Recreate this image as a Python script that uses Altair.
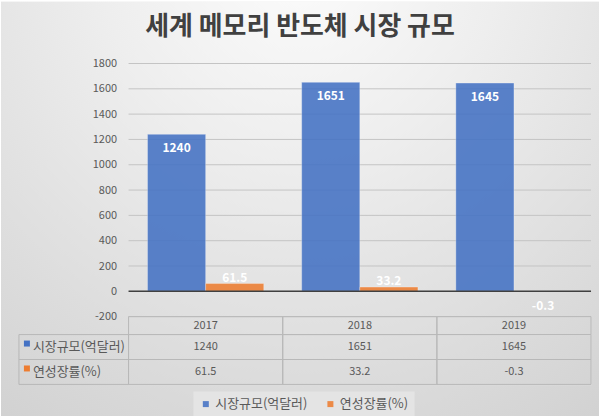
import altair as alt
import pandas as pd

# ---- data ----
title_text = "세계 메모리 반도체 시장 규모"
years = ["2017", "2018", "2019"]
series = ["시장규모(억달러)", "연성장률(%)"]
market_size = [1240, 1651, 1645]
growth_rate = [61.5, 33.2, -0.3]
y_ticks = [-200, 0, 200, 400, 600, 800, 1000, 1200, 1400, 1600, 1800]
colors = ["#4472c4", "#ed7d31"]

FONT = "Noto Sans CJK KR"
W, H = 464, 254
LEFT, TOP = 128, 62
HDR_H, BODY_H = 18, 50
TXT = "#595959"
LINE = "#b8b8b8"

rows = []
for s, vals in zip(series, [market_size, growth_rate]):
    for yr, v in zip(years, vals):
        rows.append({"year": yr, "series": s, "value": v, "label": f"{v:g}"})
df = pd.DataFrame(rows)
series_df = pd.DataFrame({"series": series})

# ---- bar chart ----
y_scale = alt.Scale(domain=[-200, 1800], nice=False)
y_axis = alt.Axis(values=y_ticks, labelExpr="'' + datum.value", grid=False, domain=False,
                  ticks=False, labelPadding=12, labelFontSize=11, labelColor=TXT,
                  labelFont=FONT, zindex=1, title=None)
x_enc = alt.X("year:N", sort=years, scale=alt.Scale(paddingInner=0.246, paddingOuter=0.123), axis=None)
xo_enc = alt.XOffset("series:N", sort=series, scale=alt.Scale(domain=series, paddingInner=0, paddingOuter=0))
color_scale = alt.Scale(domain=series, range=colors)

bg = alt.Chart(pd.DataFrame({"a": [0]})).mark_rect(
    fill=alt.RadialGradient(
        gradient="radial",
        stops=[alt.GradientStop(color="#fcfcfc", offset=0),
               alt.GradientStop(color="#eeeeee", offset=0.35),
               alt.GradientStop(color="#d0d0d0", offset=1)],
        x1=0.5, y1=0.08, r1=0, x2=0.5, y2=0.08, r2=0.95)
).encode(x=alt.value(-LEFT), x2=alt.value(600 - LEFT), y=alt.value(-TOP), y2=alt.value(416 - TOP))

grid = alt.Chart(pd.DataFrame({"t": y_ticks})).mark_rule(color="#c4c4c4", strokeWidth=1).encode(
    y=alt.Y("t:Q", scale=y_scale, axis=y_axis)
)

bars = alt.Chart(df).mark_bar(opacity=0.88, stroke="#ffffff", strokeOpacity=0.3, strokeWidth=1).encode(
    x=x_enc, xOffset=xo_enc,
    y=alt.Y("value:Q", scale=y_scale, axis=y_axis),
    color=alt.Color("series:N", sort=series, scale=color_scale,
                    legend=alt.Legend(orient="none", legendX=65, legendY=329, direction="horizontal",
                                      title=None, symbolType="square", symbolSize=36,
                                      symbolStrokeWidth=0, labelFontSize=13, labelColor=TXT,
                                      labelFont=FONT, fillColor="#e4e4e4", padding=6,
                                      columnPadding=16, labelOffset=3)),
)

zero = alt.Chart(pd.DataFrame({"z": [0]})).mark_rule(color="#404040", strokeWidth=1.5).encode(
    y=alt.Y("z:Q", scale=y_scale, axis=y_axis)
)

lbl_common = dict(color="white", fontWeight="bold", fontSize=12, font=FONT, baseline="middle")
blue_lbl = alt.Chart(df).transform_filter(alt.datum.series == series[0]).mark_text(dy=14, **lbl_common).encode(
    x=x_enc, xOffset=xo_enc, y=alt.Y("value:Q", scale=y_scale, axis=y_axis), text="label:N")
org_pos = alt.Chart(df).transform_filter(
    (alt.datum.series == series[1]) & (alt.datum.value >= 0)).mark_text(dy=-6, **lbl_common).encode(
    x=x_enc, xOffset=xo_enc, y=alt.Y("value:Q", scale=y_scale, axis=y_axis), text="label:N")
org_neg = alt.Chart(df).transform_filter(
    (alt.datum.series == series[1]) & (alt.datum.value < 0)).mark_text(dy=15, **lbl_common).encode(
    x=x_enc, xOffset=xo_enc, y=alt.Y("value:Q", scale=y_scale, axis=y_axis), text="label:N")

title = alt.Chart(pd.DataFrame({"t": [title_text]})).mark_text(
    fontSize=26, fontWeight="bold", color="#404040", font=FONT, align="center", baseline="middle"
).encode(x=alt.value(300 - LEFT), y=alt.value(25 - TOP), text="t:N")

top = alt.layer(bg, grid, bars, zero, blue_lbl, org_pos, org_neg, title).properties(width=W, height=H)

# ---- data table ----
tx = alt.X("year:N", sort=years, scale=alt.Scale(paddingInner=0, paddingOuter=0), axis=None)
hdr_cells = alt.Chart(pd.DataFrame({"year": years})).mark_rect(
    fill="white", fillOpacity=0, stroke=LINE, strokeWidth=1
).encode(x=tx, y=alt.value(0), y2=alt.value(HDR_H))
hdr_text = alt.Chart(pd.DataFrame({"year": years})).mark_text(
    fontSize=11, color=TXT, font=FONT, baseline="middle"
).encode(x=tx, y=alt.value(HDR_H / 2), text="year:N")
header = alt.layer(hdr_cells, hdr_text).properties(width=W, height=HDR_H)

ty = alt.Y("series:N", sort=series, scale=alt.Scale(domain=series, paddingInner=0, paddingOuter=0), axis=None)
cells = alt.Chart(df).mark_rect(fill="white", fillOpacity=0, stroke=LINE, strokeWidth=1).encode(x=tx, y=ty)
cell_txt = alt.Chart(df).mark_text(fontSize=11, color=TXT, font=FONT, baseline="middle").encode(
    x=tx, y=ty, text="label:N")
row_hdr = alt.Chart(series_df).mark_rect(fill="white", fillOpacity=0, stroke=LINE, strokeWidth=1).encode(
    x=alt.value(-110), x2=alt.value(0), y=ty)
squares = alt.Chart(series_df).mark_square(size=36, opacity=1).encode(
    x=alt.value(-102), y=ty, yOffset=alt.value(9),
    color=alt.Color("series:N", sort=series, scale=color_scale, legend=None))
row_txt = alt.Chart(series_df).mark_text(align="left", baseline="middle", fontSize=13, color=TXT, font=FONT).encode(
    x=alt.value(-96), y=ty, text="series:N")
body = alt.layer(cells, cell_txt, row_hdr, squares, row_txt).properties(width=W, height=BODY_H)

chart = alt.vconcat(top, header, body, spacing=0, bounds="flush").resolve_scale(
    x="independent", y="independent", color="independent"
).properties(padding=0).configure_view(stroke=None).configure(font=FONT)

chart.save("out.html", embed_options={"renderer": "svg", "actions": False})
